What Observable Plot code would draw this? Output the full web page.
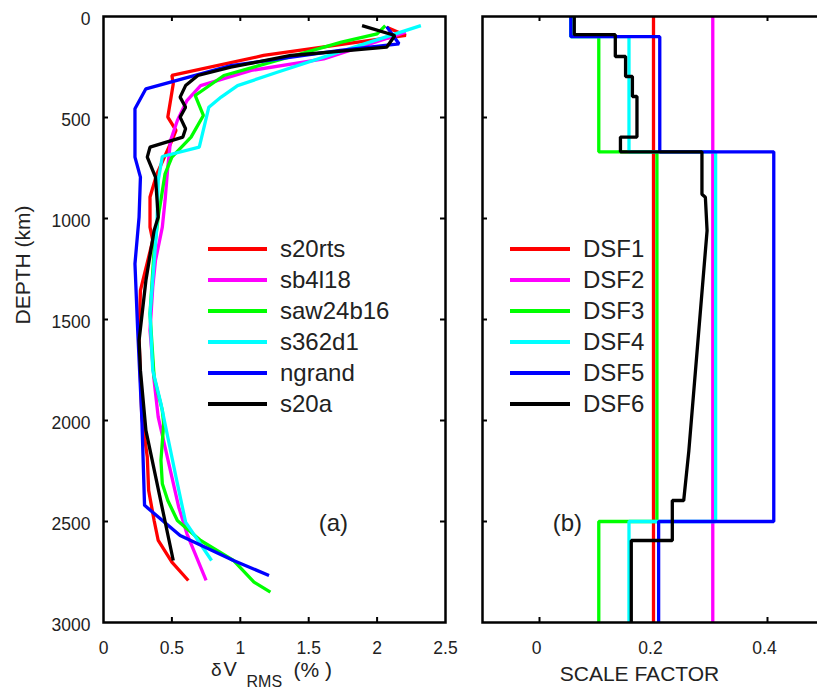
<!DOCTYPE html>
<html><head><meta charset="utf-8">
<script src="https://cdn.jsdelivr.net/npm/d3@7"></script>
<script src="https://cdn.jsdelivr.net/npm/@observablehq/plot@0.6"></script>
<style>
html,body{margin:0;padding:0;background:#fff;overflow:hidden;}
#wrap{position:relative;width:817px;height:692px;overflow:hidden;background:#fff;}
#wrap svg{position:absolute;top:0;}
</style></head><body><div id="wrap"></div>
<script>
// ---------- Panel (a): RMS velocity heterogeneity vs depth ----------
const models = ["s20rts", "sb4l18", "saw24b16", "s362d1", "ngrand", "s20a"];
const modelColors = ["#ff0000", "#ff00ff", "#00ff00", "#00ffff", "#0000ff", "#000000"];

const s20rtsDepth = [53, 94, 193, 292, 333, 416, 498, 564, 614, 779, 894, 1043, 1109, 1356, 1587, 1983, 2181, 2346, 2495, 2594, 2701, 2792];
const s20rtsValue = [2.07, 2.21, 1.17, 0.50, 0.51, 0.49, 0.47, 0.53, 0.50, 0.39, 0.34, 0.34, 0.36, 0.27, 0.26, 0.28, 0.32, 0.33, 0.37, 0.40, 0.50, 0.62];

const sb4l18Depth = [78, 210, 267, 342, 416, 515, 614, 746, 911, 1043, 1208, 1340, 1554, 1802, 1983, 2132, 2280, 2429, 2561, 2792];
const sb4l18Value = [2.21, 1.61, 1.08, 0.71, 0.61, 0.54, 0.49, 0.47, 0.45, 0.43, 0.38, 0.36, 0.34, 0.37, 0.40, 0.45, 0.50, 0.55, 0.61, 0.75];

const saw24b16Depth = [45, 86, 127, 218, 292, 391, 490, 597, 696, 779, 993, 1158, 1472, 1785, 1950, 2016, 2198, 2313, 2396, 2495, 2594, 2693, 2800, 2850];
const saw24b16Value = [2.06, 2.00, 1.74, 1.27, 0.88, 0.67, 0.73, 0.64, 0.50, 0.45, 0.40, 0.37, 0.34, 0.37, 0.43, 0.44, 0.42, 0.43, 0.47, 0.54, 0.71, 0.95, 1.10, 1.22];

const s362d1Depth = [45, 168, 276, 342, 399, 449, 647, 693, 812, 1043, 1472, 1752, 1917, 2083, 2280, 2503, 2693];
const s362d1Value = [2.32, 1.76, 1.27, 0.98, 0.86, 0.77, 0.70, 0.43, 0.40, 0.39, 0.34, 0.36, 0.42, 0.47, 0.53, 0.60, 0.79];

const ngrandDepth = [50, 135, 168, 243, 358, 457, 696, 795, 993, 1224, 1554, 1983, 2420, 2569, 2693, 2767];
const ngrandValue = [2.07, 2.16, 1.73, 0.93, 0.31, 0.23, 0.23, 0.27, 0.26, 0.23, 0.25, 0.28, 0.30, 0.56, 0.95, 1.21];

const s20aDepth = [45, 94, 152, 193, 251, 292, 342, 399, 449, 498, 556, 597, 647, 696, 795, 993, 1059, 1307, 1604, 1752, 2049, 2693];
const s20aValue = [1.89, 2.13, 2.07, 1.37, 0.93, 0.69, 0.60, 0.56, 0.60, 0.56, 0.60, 0.58, 0.34, 0.32, 0.38, 0.40, 0.37, 0.31, 0.26, 0.27, 0.31, 0.51];

// ---------- Panel (b): depth scale factors ----------
const dsfNames = ["DSF1", "DSF2", "DSF3", "DSF4", "DSF5", "DSF6"];
const dsfColors = ["#ff0000", "#ff00ff", "#00ff00", "#00ffff", "#0000ff", "#000000"];
const layerTops    = [0, 100, 670, 2500];
const layerBottoms = [100, 670, 2500, 3000];
const dsf1Layers = [0.200, 0.200, 0.200, 0.200];
const dsf2Layers = [0.304, 0.304, 0.304, 0.304];
const dsf3Layers = [0.055, 0.104, 0.206, 0.104];
const dsf4Layers = [0.055, 0.157, 0.309, 0.157];
const dsf5Layers = [0.055, 0.211, 0.411, 0.209];
const dsf6Depth = [0, 90, 90, 198, 198, 297, 297, 396, 396, 597, 597, 670, 670, 880, 895, 1060, 2150, 2396, 2396, 2594, 2594, 3000];
const dsf6Value = [0.061, 0.061, 0.133, 0.133, 0.151, 0.151, 0.163, 0.163, 0.171, 0.171, 0.142, 0.142, 0.285, 0.285, 0.291, 0.294, 0.262, 0.253, 0.233, 0.233, 0.161, 0.161];

// ticks
const depthTicks = [0, 500, 1000, 1500, 2000, 2500, 3000];
const dvTicks = [0, 0.5, 1, 1.5, 2, 2.5];
const sfTicks = [0, 0.2, 0.4];

// ---------- build tables ----------
const curveA = [
  [s20rtsDepth, s20rtsValue], [sb4l18Depth, sb4l18Value], [saw24b16Depth, saw24b16Value],
  [s362d1Depth, s362d1Value], [ngrandDepth, ngrandValue], [s20aDepth, s20aValue]
].map(([D, V], i) => D.map((d, j) => ({model: models[i], depth: d, value: V[j]})));

function stepRows(layers) {
  const rows = [];
  layers.forEach((v, i) => { rows.push({depth: layerTops[i], value: v}); rows.push({depth: layerBottoms[i], value: v}); });
  return rows;
}
const curveB = [dsf1Layers, dsf2Layers, dsf3Layers, dsf4Layers, dsf5Layers].map(stepRows);
curveB.push(dsf6Depth.map((d, j) => ({depth: d, value: dsf6Value[j]})));

const FONT = '"Liberation Sans", Arial, Helvetica, sans-serif';
const TXT = "#222";
const H = 692, MT = 16, MB = 70;
const pxPerKm = (H - MT - MB) / 3000;

// ---------- Plot (a) ----------
const aLeft = 103, aRight = 445, aW = 470;
const aKx = 2.5 / (aRight - aLeft);
const tick = 5;
const plotA = Plot.plot({
  width: aW, height: H, marginLeft: aLeft, marginRight: aW - aRight, marginTop: MT, marginBottom: MB,
  x: {domain: [0, 2.5], axis: null},
  y: {domain: [0, 3000], reverse: true, axis: null},
  style: {fontFamily: FONT, background: "transparent", overflow: "visible"},
  marks: [
    ...curveA.map((rows, i) => Plot.line(rows, {x: "value", y: "depth", stroke: modelColors[i], strokeWidth: 3.3, strokeLinejoin: "miter", strokeLinecap: "butt"})),
    Plot.ruleY(depthTicks.slice(1, -1), {x1: 0, x2: tick * aKx, stroke: "#000", strokeWidth: 2}),
    Plot.ruleY(depthTicks.slice(1, -1), {x1: 2.5 - tick * aKx, x2: 2.5, stroke: "#000", strokeWidth: 2}),
    Plot.ruleX(dvTicks.slice(1, -1), {y1: 0, y2: tick / pxPerKm, stroke: "#000", strokeWidth: 2}),
    Plot.ruleX(dvTicks.slice(1, -1), {y1: 3000 - tick / pxPerKm, y2: 3000, stroke: "#000", strokeWidth: 2}),
    Plot.frame({stroke: "#000", strokeWidth: 2.5}),
    Plot.text(depthTicks, {x: 0, y: d => d, text: d => String(d), dx: -13, dy: 3, textAnchor: "end", fontSize: 17.5, fill: TXT}),
    Plot.text(dvTicks, {x: d => d, y: 3000, text: d => String(d), dy: 25.5, fontSize: 17.5, fill: TXT}),
    Plot.text(["DEPTH (km)"], {frameAnchor: "left", text: d => d, rotate: -90, dx: -80, dy: 5, fontSize: 21, fill: TXT}),
    Plot.text(["δ"], {frameAnchor: "bottom", text: d => d, textAnchor: "end", dx: 221 - 274, dy: 53, fontSize: 19, fill: TXT}),
    Plot.text(["V"], {frameAnchor: "bottom", text: d => d, textAnchor: "start", dx: 223 - 274, dy: 53, fontSize: 20, fill: TXT}),
    Plot.text(["RMS"], {frameAnchor: "bottom", text: d => d, textAnchor: "start", dx: 246 - 274, dy: 64, fontSize: 16, fill: TXT}),
    Plot.text(["(% )"], {frameAnchor: "bottom", text: d => d, textAnchor: "start", dx: 293 - 274, dy: 54, fontSize: 21, fill: TXT}),
    Plot.text(["(a)"], {x: 1.68, y: 2510, text: d => d, fontSize: 24, fill: TXT})
  ]
});

// ---------- Plot (b) ----------
const bLeftSvg = 470, bW = 360, bLeft = 482, bRight = 824;
const bKx = 0.6 / (bRight - bLeft);
const plotB = Plot.plot({
  width: bW, height: H, marginLeft: bLeft - bLeftSvg, marginRight: bLeftSvg + bW - bRight, marginTop: MT, marginBottom: MB,
  x: {domain: [-0.1, 0.5], axis: null},
  y: {domain: [0, 3000], reverse: true, axis: null},
  style: {fontFamily: FONT, background: "transparent", overflow: "visible"},
  marks: [
    Plot.ruleY(depthTicks.slice(1, -1), {x1: -0.1, x2: -0.1 + tick * bKx, stroke: "#000", strokeWidth: 2}),
    Plot.ruleX(sfTicks, {y1: 0, y2: tick / pxPerKm, stroke: "#000", strokeWidth: 2}),
    Plot.ruleX(sfTicks, {y1: 3000 - tick / pxPerKm, y2: 3000, stroke: "#000", strokeWidth: 2}),
    ...curveB.map((rows, i) => Plot.line(rows, {x: "value", y: "depth", stroke: dsfColors[i], strokeWidth: 3.3, strokeLinejoin: "miter", strokeLinecap: "butt"})),
    Plot.frame({stroke: "#000", strokeWidth: 2.5}),
    Plot.text(sfTicks, {x: d => d, y: 3000, text: d => String(d), dx: -3, dy: 25.5, fontSize: 17.5, fill: TXT}),
    Plot.text(["SCALE FACTOR"], {frameAnchor: "bottom", text: d => d, dx: -14, dy: 58, fontSize: 21, fill: TXT}),
    Plot.text(["(b)"], {x: 0.049, y: 2510, text: d => d, fontSize: 24, fill: TXT})
  ]
});

plotA.style.left = "0px";
plotB.style.left = bLeftSvg + "px";

// ---------- legends ----------
function legend(svg, names, colors, x0, x1, xt, y0, dy) {
  const g = d3.select(svg).append("g").attr("font-family", FONT).attr("font-size", 24)
    .attr("fill", TXT).attr("text-anchor", "start");
  names.forEach((n, i) => {
    const y = y0 + dy * i;
    g.append("line").attr("x1", x0).attr("x2", x1).attr("y1", y).attr("y2", y)
      .attr("stroke", colors[i]).attr("stroke-width", 4);
    g.append("text").attr("x", xt).attr("y", y).attr("dy", "0.35em").attr("text-anchor", "start").text(n);
  });
}
legend(plotA, models, modelColors, 208, 267, 280, 249, 31);
legend(plotB, dsfNames, dsfColors, 510 - bLeftSvg, 570 - bLeftSvg, 583 - bLeftSvg, 249, 31);

const wrap = document.getElementById("wrap");
wrap.appendChild(plotA);
wrap.appendChild(plotB);
</script>
</body></html>
